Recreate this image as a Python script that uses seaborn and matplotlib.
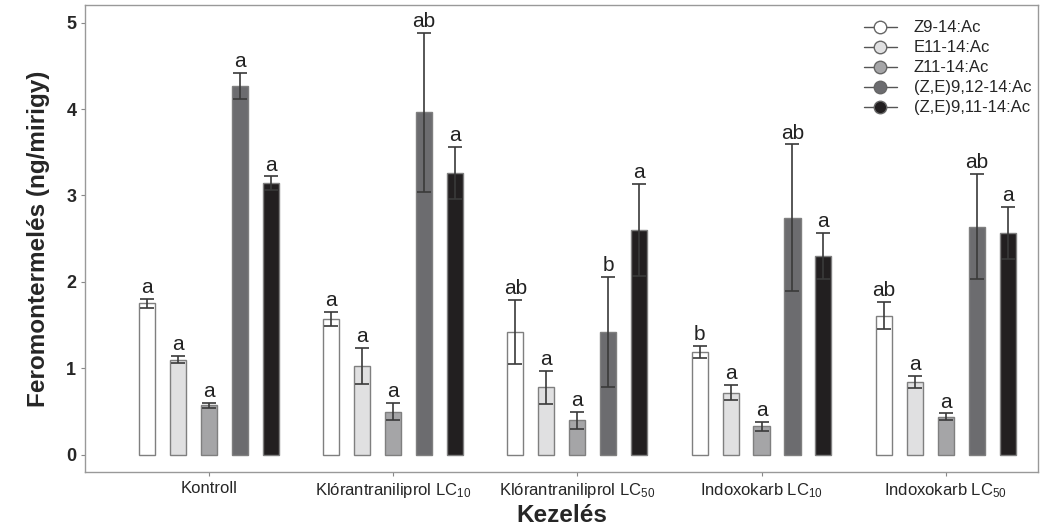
import pandas as pd
import matplotlib.pyplot as plt
import seaborn as sns
from matplotlib.lines import Line2D

treatments = ["Kontroll", "Klórantraniliprol LC$_{10}$", "Klórantraniliprol LC$_{50}$",
              "Indoxokarb LC$_{10}$", "Indoxokarb LC$_{50}$"]
compounds = ["Z9-14:Ac", "E11-14:Ac", "Z11-14:Ac", "(Z,E)9,12-14:Ac", "(Z,E)9,11-14:Ac"]

# mean per compound, one value per treatment
means = {
    "Z9-14:Ac":        [1.75, 1.57, 1.42, 1.19, 1.61],
    "E11-14:Ac":       [1.10, 1.03, 0.78, 0.72, 0.84],
    "Z11-14:Ac":       [0.57, 0.50, 0.40, 0.33, 0.44],
    "(Z,E)9,12-14:Ac": [4.27, 3.96, 1.42, 2.74, 2.64],
    "(Z,E)9,11-14:Ac": [3.14, 3.26, 2.60, 2.30, 2.57],
}
errors = {
    "Z9-14:Ac":        [0.05, 0.08, 0.37, 0.07, 0.16],
    "E11-14:Ac":       [0.04, 0.21, 0.19, 0.09, 0.07],
    "Z11-14:Ac":       [0.03, 0.10, 0.10, 0.05, 0.04],
    "(Z,E)9,12-14:Ac": [0.15, 0.92, 0.64, 0.85, 0.61],
    "(Z,E)9,11-14:Ac": [0.08, 0.30, 0.53, 0.27, 0.30],
}
letters = {
    "Z9-14:Ac":        ["a", "a", "ab", "b", "ab"],
    "E11-14:Ac":       ["a", "a", "a", "a", "a"],
    "Z11-14:Ac":       ["a", "a", "a", "a", "a"],
    "(Z,E)9,12-14:Ac": ["a", "ab", "b", "ab", "ab"],
    "(Z,E)9,11-14:Ac": ["a", "a", "a", "a", "a"],
}
colors = ["#ffffff", "#e0e0e1", "#a5a5a7", "#6c6c6f", "#221f20"]

rows = []
for c in compounds:
    for t, m in zip(treatments, means[c]):
        rows.append({"Kezelés": t, "compound": c, "value": m})
df = pd.DataFrame(rows)

sns.set_style("white")
plt.rcParams['font.family'] = ['Liberation Sans', 'DejaVu Sans']
plt.rcParams['mathtext.fontset'] = 'custom'
plt.rcParams['mathtext.rm'] = 'Liberation Sans'
plt.rcParams['mathtext.it'] = 'Liberation Sans'

fig = plt.figure(figsize=(10.41, 5.28), dpi=100)
ax = fig.add_axes([0.082, 0.106, 0.915, 0.884])

sns.barplot(data=df, x="Kezelés", y="value", hue="compound", order=treatments,
            hue_order=compounds, palette=colors, errorbar=None, width=0.84, gap=0.48,
            edgecolor="#7f7f7f", linewidth=1.0, legend=False, ax=ax)

for i, c in enumerate(compounds):
    bars = ax.containers[i]
    xs = [b.get_x() + b.get_width() / 2 for b in bars]
    ax.errorbar(xs, means[c], yerr=errors[c], fmt="none", ecolor="#3a3a3a",
                elinewidth=1.2, capsize=5, capthick=1.2)
    for x, m, e, lab in zip(xs, means[c], errors[c], letters[c]):
        ax.text(x, m + e + 0.02, lab, ha="center", va="bottom", fontsize=15, color="#222222")

ax.set_ylim(-0.2, 5.2)
ax.set_xlim(-0.67, 4.5)
ax.set_yticks([0, 1, 2, 3, 4, 5])
ax.set_xlabel("Kezelés", fontsize=17.5, fontweight="bold", labelpad=3)
ax.set_ylabel("Feromontermelés (ng/mirigy)", fontsize=17.5, fontweight="bold", labelpad=12)
ax.tick_params(axis="y", labelsize=13, length=3, color="#888888", direction="out", left=True)
ax.tick_params(axis="x", labelsize=12, length=3, color="#888888", direction="out", bottom=True)
for lab in ax.get_yticklabels():
    lab.set_fontweight("bold")
for s in ax.spines.values():
    s.set_color("#999999")
    s.set_linewidth(1.0)

handles = [Line2D([0], [0], color="#555555", lw=1, marker="o", markersize=9,
                  markerfacecolor=col, markeredgecolor="#666666") for col in colors]
ax.legend(handles, compounds, loc="upper right", frameon=False, fontsize=12,
          handlelength=2.0, handletextpad=1.0, labelspacing=0.3,
          borderaxespad=0.0, bbox_to_anchor=(1.0, 0.982))

plt.savefig("out.png", dpi=100)
